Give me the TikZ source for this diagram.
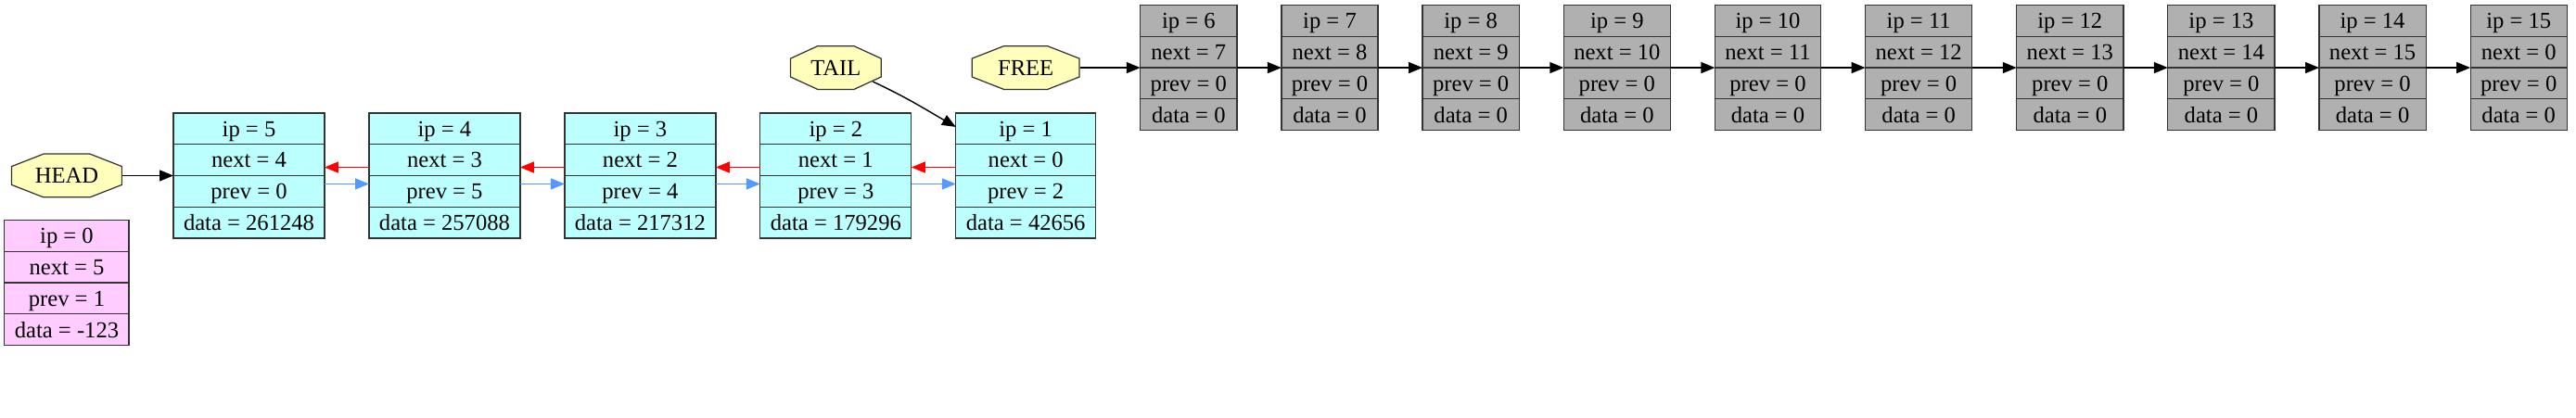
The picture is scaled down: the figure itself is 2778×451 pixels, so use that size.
\documentclass[tikz,border=0pt]{standalone}
\usepackage{fontspec}
\setmainfont{Liberation Serif}
\usetikzlibrary{positioning,chains,shapes.multipart,arrows.meta}

\definecolor{usedcyan}{HTML}{BBFFFF}
\definecolor{freegray}{HTML}{B0B0B0}
\definecolor{zeropink}{HTML}{FFCCFF}
\definecolor{octyellow}{HTML}{FFFFBB}
\definecolor{prevblue}{HTML}{5599FF}

\newcommand\recstrut{\rule[-4.5pt]{0pt}{18.5pt}}
\newcommand\recfields[4]{\recstrut #1\nodepart{two}\recstrut #2%
    \nodepart{three}\recstrut #3\nodepart{four}\recstrut #4}

\begin{document}
\begin{tikzpicture}[
    x=0.569pt, y=-0.569pt,
    node distance=13.7pt and 27.3pt,
    start chain=going right,
 recnode/.style = {
        draw=black!80, line width=0.7pt, rectangle split, rectangle split parts=4,
        inner xsep=6.26pt, inner ysep=0pt, outer sep=0pt,
        font=\fontsize{14pt}{16.8pt}\selectfont},
 usednode/.style = {recnode, fill=usedcyan},
 freenode/.style = {recnode, fill=freegray, on chain},
 zeronode/.style = {recnode, fill=zeropink},
 ptrnode/.style = {
        minimum height=27.3pt, inner sep=0pt, outer sep=0pt,
        font=\fontsize{14pt}{16.8pt}\selectfont,
        path picture={
          \filldraw[draw=black!80, fill=octyellow, line width=0.7pt]
            ([xshift=#1,yshift=-0.35pt] path picture bounding box.north west) --
            ([xshift=-#1,yshift=-0.35pt] path picture bounding box.north east) --
            ([xshift=-0.35pt,yshift=-8pt] path picture bounding box.north east) --
            ([xshift=-0.35pt,yshift=8pt] path picture bounding box.south east) --
            ([xshift=-#1,yshift=0.35pt] path picture bounding box.south east) --
            ([xshift=#1,yshift=0.35pt] path picture bounding box.south west) --
            ([xshift=0.35pt,yshift=8pt] path picture bounding box.south west) --
            ([xshift=0.35pt,yshift=-8pt] path picture bounding box.north west) -- cycle;}},
 ptrnode/.default = 19.9pt,
every join/.style = arrow,
     arrow/.style = {line width=0.8pt, -{Triangle[length=8.5pt,width=6.8pt]}},
 nextarrow/.style = {arrow, red},
 prevarrow/.style = {arrow, prevblue}
                    ]
\useasboundingbox (0,0) rectangle (2778,451);
% the used list
\node (n5) [usednode, anchor=north west] at (187,122)
        {\recfields{ip = 5}{next = 4}{prev = 0}{data = 261248}};
\node (n4) [usednode, right=of n5]
        {\recfields{ip = 4}{next = 3}{prev = 5}{data = 257088}};
\node (n3) [usednode, right=of n4]
        {\recfields{ip = 3}{next = 2}{prev = 4}{data = 217312}};
\node (n2) [usednode, right=of n3]
        {\recfields{ip = 2}{next = 1}{prev = 3}{data = 179296}};
\node (n1) [usednode, right=of n2]
        {\recfields{ip = 1}{next = 0}{prev = 2}{data = 42656}};
% head, tail, free and the zero element
\node (head) [ptrnode, minimum width=68.3pt, left=31.3pt of n5] {HEAD};
\node (n0)   [zeronode, below=of head]
        {\recfields{ip = 0}{next = 5}{prev = 1}{data = -123}};
\node (tail) [ptrnode=17pt, minimum width=56.3pt, above=14.2pt of n2] {TAIL};
\node (free) [ptrnode, minimum width=66.6pt, above=14.2pt of n1] {FREE};
% the free list
\node (n6)  [freenode, right=37pt of free]
        {\recfields{ip = 6}{next = 7}{prev = 0}{data = 0}};
\node (n7)  [freenode,join]
        {\recfields{ip = 7}{next = 8}{prev = 0}{data = 0}};
\node (n8)  [freenode,join]
        {\recfields{ip = 8}{next = 9}{prev = 0}{data = 0}};
\node (n9)  [freenode,join]
        {\recfields{ip = 9}{next = 10}{prev = 0}{data = 0}};
\node (n10) [freenode,join]
        {\recfields{ip = 10}{next = 11}{prev = 0}{data = 0}};
\node (n11) [freenode,join]
        {\recfields{ip = 11}{next = 12}{prev = 0}{data = 0}};
\node (n12) [freenode,join]
        {\recfields{ip = 12}{next = 13}{prev = 0}{data = 0}};
\node (n13) [freenode,join]
        {\recfields{ip = 13}{next = 14}{prev = 0}{data = 0}};
\node (n14) [freenode,join]
        {\recfields{ip = 14}{next = 15}{prev = 0}{data = 0}};
\node (n15) [freenode,join]
        {\recfields{ip = 15}{next = 0}{prev = 0}{data = 0}};
% pointers
\draw[arrow] (head) -- (n5);
\draw[arrow] (free) -- (n6);
\draw[arrow] ([xshift=-5.4pt,yshift=5.1pt] tail.south east)
        to[out=-25,in=150] ([yshift=-8.5pt] n1.north west);
% next and prev links
\draw[nextarrow] ([yshift=5.1pt] n4.west) -- ([yshift=5.1pt] n5.east);
\draw[prevarrow] ([yshift=-5.1pt] n5.east) -- ([yshift=-5.1pt] n4.west);
\draw[nextarrow] ([yshift=5.1pt] n3.west) -- ([yshift=5.1pt] n4.east);
\draw[prevarrow] ([yshift=-5.1pt] n4.east) -- ([yshift=-5.1pt] n3.west);
\draw[nextarrow] ([yshift=5.1pt] n2.west) -- ([yshift=5.1pt] n3.east);
\draw[prevarrow] ([yshift=-5.1pt] n3.east) -- ([yshift=-5.1pt] n2.west);
\draw[nextarrow] ([yshift=5.1pt] n1.west) -- ([yshift=5.1pt] n2.east);
\draw[prevarrow] ([yshift=-5.1pt] n2.east) -- ([yshift=-5.1pt] n1.west);
\end{tikzpicture}
\end{document}
